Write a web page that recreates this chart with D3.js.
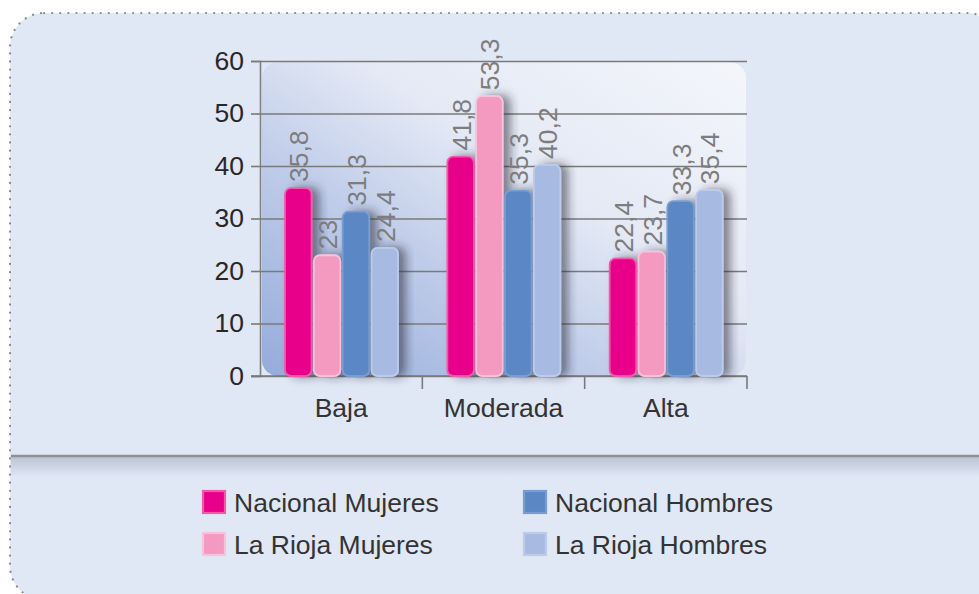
<!DOCTYPE html>
<html>
<head>
<meta charset="utf-8">
<script src="https://cdn.jsdelivr.net/npm/d3@7"></script>
<style>
  html, body { margin: 0; padding: 0; background: #ffffff; }
  svg { display: block; }
  text { font-family: "Liberation Sans", Arial, Helvetica, sans-serif; }
</style>
</head>
<body>
<svg id="chart" width="979" height="594"></svg>
<script>
// ---- data ----
const categories = ["Baja", "Moderada", "Alta"];
const seriesNames = ["Nacional Mujeres", "La Rioja Mujeres", "Nacional Hombres", "La Rioja Hombres"];
const nacionalMujeres = [35.8, 41.8, 22.4];
const laRiojaMujeres = [23, 53.3, 23.7];
const nacionalHombres = [31.3, 35.3, 33.3];
const laRiojaHombres = [24.4, 40.2, 35.4];
const yTickValues = [0, 10, 20, 30, 40, 50, 60];
const seriesFill = ["#e8008a", "#f49ac1", "#5b87c5", "#a7bbe2"];
const seriesStroke = ["#f25aa9", "#f9c2db", "#789dd2", "#bccbea"];

const seriesValues = [nacionalMujeres, laRiojaMujeres, nacionalHombres, laRiojaHombres];
const rows = categories.map((c, i) => ({
  category: c,
  values: seriesNames.map((s, j) => ({ series: s, idx: j, value: seriesValues[j][i] }))
}));

const svg = d3.select("#chart");
const defs = svg.append("defs");

// drop shadow
const f = defs.append("filter").attr("id", "shadow")
  .attr("x", "-40%").attr("y", "-20%").attr("width", "200%").attr("height", "140%");
f.append("feDropShadow").attr("dx", 7).attr("dy", 0).attr("stdDeviation", 5)
  .attr("flood-color", "#262b36").attr("flood-opacity", 0.55);

// plot background gradient
const g1 = defs.append("linearGradient").attr("id", "plotbg")
  .attr("x1", "0").attr("y1", "1").attr("x2", "1").attr("y2", "0");
g1.append("stop").attr("offset", "0").attr("stop-color", "#95abdb");
g1.append("stop").attr("offset", "0.35").attr("stop-color", "#bfcce9");
g1.append("stop").attr("offset", "0.6").attr("stop-color", "#e4e9f5");
g1.append("stop").attr("offset", "1").attr("stop-color", "#f4f6fb");

const g2 = defs.append("linearGradient").attr("id", "sepShadow")
  .attr("x1", "0").attr("y1", "0").attr("x2", "0").attr("y2", "1");
g2.append("stop").attr("offset", "0").attr("stop-color", "#bcc4d4");
g2.append("stop").attr("offset", "1").attr("stop-color", "#e0e7f5");

// panel
svg.append("rect")
  .attr("x", 10).attr("y", 13).attr("width", 991).attr("height", 587)
  .attr("rx", 34).attr("ry", 34)
  .attr("fill", "#e0e7f5")
  .attr("stroke", "#8a8a8a").attr("stroke-width", 2.2)
  .attr("stroke-dasharray", "0.1 8").attr("stroke-linecap", "round");

// scales
const x0 = d3.scaleBand().domain(categories).range([260, 747]).paddingInner(0).paddingOuter(0);
const x1 = d3.scaleBand().domain(seriesNames).range([25, 138]).paddingInner(0.08);
const y = d3.scaleLinear().domain([0, 60]).range([376, 61]);

// plot background
svg.append("rect")
  .attr("x", x0.range()[0] + 2).attr("y", y(60) + 1)
  .attr("width", x0.range()[1] - x0.range()[0] - 3).attr("height", y(0) - y(60) - 1)
  .attr("rx", 16).attr("ry", 16)
  .attr("fill", "url(#plotbg)");

// gridlines + y axis
const yAxis = d3.axisLeft(y).tickValues(yTickValues).tickSize(9).tickPadding(7)
  .tickFormat(d3.format("d"));
const ya = svg.append("g").attr("transform", "translate(260,0)").call(yAxis);
ya.select(".domain").attr("stroke", "#808080").attr("stroke-width", 1.6);
ya.selectAll(".tick line").attr("stroke", "#7a7a7a").attr("stroke-width", 1.6);
ya.selectAll(".tick text").attr("font-size", 26.5).attr("fill", "#2a2627")
  .attr("font-family", "'Liberation Sans', Arial, sans-serif");

const grid = d3.axisLeft(y).tickValues(yTickValues).tickSize(-(747 - 260)).tickFormat("");
const ga = svg.append("g").attr("transform", "translate(260,0)").call(grid);
ga.select(".domain").remove();
ga.selectAll(".tick line").attr("stroke", "#7a7a7a").attr("stroke-width", 1.6);

// x axis
const xAxis = d3.axisBottom(x0).tickSize(0).tickPadding(22);
const xa = svg.append("g").attr("transform", `translate(0,${y(0)})`).call(xAxis);
xa.select(".domain").attr("stroke", "#7a7a7a").attr("stroke-width", 1.6)
  .attr("d", `M251,0H747`);
xa.selectAll(".tick text").attr("font-size", 26.5).attr("fill", "#333333")
  .attr("dy", "0.71em");
// category boundary ticks
const boundaries = categories.map(c => x0(c) + x0.bandwidth());
xa.selectAll(".bound").data(boundaries).join("line").attr("class", "bound")
  .attr("x1", d => d).attr("x2", d => d).attr("y1", 0).attr("y2", 13)
  .attr("stroke", "#7a7a7a").attr("stroke-width", 1.6);

// bars
const groups = svg.append("g").selectAll("g").data(rows).join("g")
  .attr("transform", d => `translate(${x0(d.category)},0)`);

groups.selectAll("rect").data(d => d.values).join("rect")
  .attr("x", d => x1(d.series))
  .attr("y", d => y(d.value))
  .attr("width", x1.bandwidth())
  .attr("height", d => y(0) - y(d.value))
  .attr("rx", 6).attr("ry", 6)
  .attr("fill", d => seriesFill[d.idx])
  .attr("stroke", d => seriesStroke[d.idx])
  .attr("stroke-width", 1.8)
  .attr("filter", "url(#shadow)");

// value labels
const fmt = v => String(v).replace(".", ",");
groups.selectAll("text.val").data(d => d.values).join("text").attr("class", "val")
  .attr("transform", d => `translate(${x1(d.series) + x1.bandwidth() / 2 + 10},${y(d.value) - 6}) rotate(-90)`)
  .attr("text-anchor", "start")
  .attr("font-size", 26.5)
  .attr("fill", "#7d7d7d")
  .text(d => fmt(d.value));

// separator line
svg.append("rect").attr("x", 11).attr("y", 457).attr("width", 968).attr("height", 20)
  .attr("fill", "url(#sepShadow)");
svg.append("line").attr("x1", 11).attr("x2", 979).attr("y1", 456).attr("y2", 456)
  .attr("stroke", "#8d9096").attr("stroke-width", 2.4);

// legend
const legendCol = d3.scaleOrdinal().domain([0, 1]).range([202, 523]);
const legendRow = d3.scaleOrdinal().domain([0, 1]).range([502, 544]);
const leg = svg.append("g").selectAll("g").data(seriesNames).join("g")
  .attr("transform", (d, i) => `translate(${legendCol(Math.floor(i / 2))},${legendRow(i % 2)})`);
leg.append("rect").attr("x", 1).attr("y", -11).attr("width", 22).attr("height", 22)
  .attr("fill", (d, i) => seriesFill[i])
  .attr("stroke", (d, i) => seriesStroke[i]).attr("stroke-width", 2.2);
leg.append("text").attr("x", 32).attr("y", 0).attr("dy", "0.36em")
  .attr("font-size", 26.5).attr("fill", "#333333")
  .text(d => d);
</script>
</body>
</html>
